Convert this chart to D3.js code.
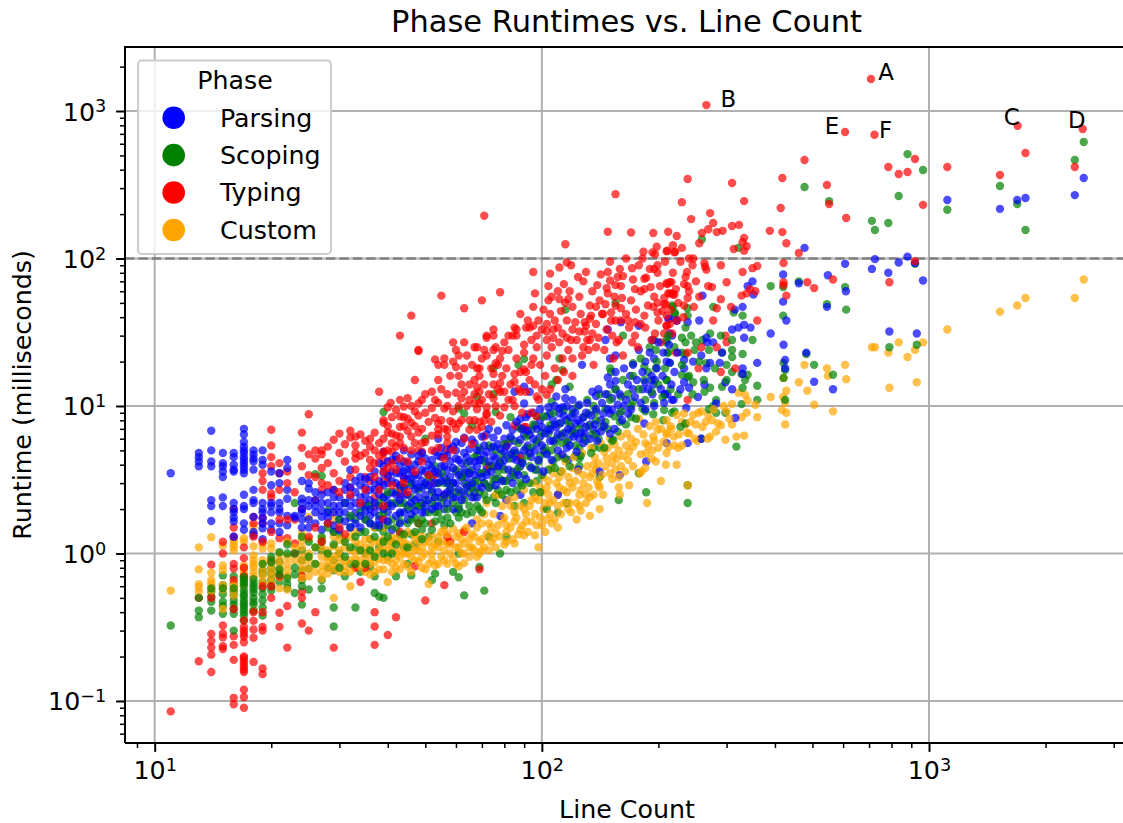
<!DOCTYPE html>
<html><head><meta charset="utf-8">
<script src="https://cdn.jsdelivr.net/npm/d3@7"></script>
<style>html,body{margin:0;background:#fff}svg{display:block}text{font-family:"DejaVu Sans";fill:#000}</style>
</head><body><svg id="c" width="1123" height="823"></svg>
<script>
const phases = ["Parsing","Scoping","Typing","Custom"];
const phaseColors = ["#0000ff","#008000","#ff0000","#ffa500"];
const decadesX = [10,100,1000];
const decadesY = [0.1,1,10,100,1000];
const minorX = [9,20,30,40,50,60,70,80,90,200,300,400,500,600,700,800,900,2000,3000];
const minorY = [0.06,0.07,0.08,0.09,0.2,0.3,0.4,0.5,0.6,0.7,0.8,0.9,2,3,4,5,6,7,8,9,20,30,40,50,60,70,80,90,200,300,400,500,600,700,800,900,2000];
const annotations = [["A",708,1648,15,-7],["B",266,1097,22,-6],["C",1694,795,-6,-9],["D",2494,755,-6,-9],["E",607,720,-13,-6],["F",723,691,11,-5]];

const parsing = [[11,3.5],[13,4.8],[13,4.5],[13,4.2],[13,3.9],[14,6.8],[14,5],[14,4.2],[14,3.9],[14,2.3],[14,2.1],[14,1.66],
[15,4.8],[15,4.1],[15,3.9],[15,3.6],[15,3.3],[15,2.4],[15,2.1],[16,4.8],[16,4.5],[16,4],[16,3.7],[16,3.6],[16,2.2],[16,2],[16,1.9],[16,1.75],[16,1.65],[16,1.3],
[17,7],[17,6.4],[17,5.7],[17,5.3],[17,5],[17,4.8],[17,4.5],[17,4.3],[17,4.1],[17,3.9],[17,3.7],[17,3.5],[17,2.5],[17,2.1],[17,2],[17,1.6],[17,1.45],
[18,5],[18,4.7],[18,4.4],[18,4.2],[18,3.7],[18,2.7],[18,2.3],[18,2.2],[18,1.77],[18,1.4],[18,1.33],[19,5],[19,4.3],[19,4],[19,2.2],[19,2],[19,1.9],[19,1.73],[19,1.6],[19,1.48],[19,1.25],
[20,3.6],[20,2.9],[20,2.2],[20,2.1],[20,1.9],[20,1.6],[20,1.45],[21,3.5],[21,3],[21,2.2],[21,2],[21,1.9],[21,1.6],[21,1.4],[22,4.3],[22,3.8],[22,2.7],[22,2.35],[22,1.8],[22,1.55],[23,1.8],[23,1.75],
[24,3.1],[24,2.35],[24,2.2],[24,2],[24,1.7],[24,1.5],[25,3],[25,2.75],[25,2.3],[25,1.5],[26,2.3],[26,1.9],[27,2.2],[27,1.77],[27,1.45],[28,1.9],[28,1.6],[29,2.4],[29,1.9],[29,1.4],[30,2.1],[30,1.7],
[31,3],[31,2.7],[31,1.9],[32,3.7],[32,2.1],[32,1.75],[33,2.6],[33,1.9],[33,1.6],[34,2.1],[34,1.5],[34,2.9],[35,1.7],[35,2.8],[35,2.2],[36,2.3],[36,3.3],[36,1.8],[37,2.7],[37,1.55],[37,3.6],[38,3.1],[38,2.1],[38,4.1],[38,1.7],
[39,3.5],[39,1.7],[39,2.4],[39,4.9],[40,3],[40,4.2],[40,2.5],[40,1.9],[41,2.6],[41,1.45],[41,3.6],[42,2.2],[42,4.6],[42,4.3],[42,3],[43,1.9],[43,2.9],[43,3.5],[44,3.3],[44,5],[44,2.5],[44,3.6],[45,2.1],[45,4.1],[45,1.7],[46,2.9],[46,3.7],
[47,3.4],[47,2.3],[47,4],[48,4.6],[48,2.8],[49,3.1],[49,2.2],[49,3.7],[50,2.5],[50,4.4],[50,1.9],[51,3.4],[52,4.3],[52,3.3],[52,2.7],[53,2.1],[53,3.6],[54,6],[54,3],[54,4.6],[55,2.4],[55,3.9],[56,4.7],[56,2],[56,3.3],
[57,3.7],[57,2.6],[58,4.2],[59,2],[59,3],[59,5.3],[60,5],[60,3.6],[60,2.4],[61,4.3],[61,2],[62,3.3],[62,5.6],[63,3],[63,2.5],[64,3.3],[64,4.5],[65,2.9],[65,5.1],[66,1.6],[66,3.7],[67,5.6],[67,2.6],[68,3.9],[68,2.8],[69,5],[69,3.5],
[70,4.3],[71,4.6],[71,3],[72,6.4],[72,3.8],[73,2.8],[74,5.2],[75,6.1],[75,4.6],[75,3.9],[76,3.2],[77,5.5],[78,4.1],[78,1.8],[79,3.9],[80,6],[80,4.9],[81,2.3],[82,5.6],[83,3.3],[84,6.9],[84,4.4],[85,5.8],[85,12.5],
[86,3.6],[87,7.2],[88,8.2],[88,4.6],[88,3.9],[88,2.5],[90,10.4],[90,6.4],[90,13.5],[91,8.4],[92,5.4],[93,6.4],[93,12.5],[94,4.5],[95,9],[96,7.4],[97,3.7],[97,5.6],[99,6.2],[99,8],
[101,5],[103,8.5],[104,7],[105,8.9],[105,5.8],[107,8],[109,7.2],[109,11.6],[110,2.5],[111,8.9],[112,6.2],[113,9.8],[115,13],[115,11.3],[116,8],[116,5.2],[117,5.9],[117,4.3],[120,9.5],[120,6.8],[122,7.6],[122,6.5],[124,3.7],[125,6],[126,7.6],[127,19],[129,6.5],[130,9],[133,7.5],[136,6.9],[138,6.5],[138,11.7],
[141,3.6],[142,8],[144,8.9],[148,15.6],[148,33],[146,28],[150,8.9],[150,21],[152,11.3],[155,13],[155,14.8],[155,22],[159,8.9],[159,3.4],[160,37],[163,10],[167,8.9],[169,16],[172,13],[178,35],[182,13],[184,7.6],[185,14.5],[185,20],[186,4.2],[193,12],[193,28],[194,14],[195,21],[196,15],[206,23],[208,12],[210,5.6],[211,12],[214,39],[214,31],[219,11],[223,38],
[212,39],[223,38],[238,37],[255,38],[214,19.6],[233,20.5],[246,20],[258,22],[292,23],[272,19.6],[288,19.6],[266,18],[330,18],[330,16.5],[233,18],[217,30],[266,29],[277,27],[267,27],[333,29],[310,33],[322,34],[333,35.5],[346,34],[315,45],[260,56],[330,47],[350,70],[340,65],[352,57],
[298,14.5],[310,13],[263,14],[233,14.5],[240,13.3],[208,12],[217,11],[253,11.5],[282,10.4],[236,9.7],[316,8.3],[238,5.6],[258,6],[360,19.6],[425,20.5],[425,18],[390,31],[421,26],[428,38],[420,51],[420,78],
[477,118],[461,68],[548,77],[545,47],[610,60],[607,92],[712,85],[725,99],[785,80],[835,94],[880,103],[920,93],[965,71],[790,32],[930,31],[482,23],[505,14.6],[565,13],[1115,249],[1525,217],[1690,249],[1775,257],[2380,269],[2510,351]];
const parsingCloud = [[24,1.9],[25,2.1],[25,1.7],[26,2.1],[26,1.6],[26,2.6],[27,1.95],[27,2.5],[28,2.2],[28,1.75],[28,2.6],[29,2.1],[29,1.55],[29,2.7],[30,1.9],[30,2.4],[30,1.45],[31,2.2],[31,1.65],[32,2.4],[32,1.5],[32,2.8],[33,2.2],[33,3.1],[34,1.8],[34,2.4],[34,3.3],[35,1.95],[35,2.5],[35,3.2],[36,2],[36,2.7],[36,1.6],[37,2.2],[37,3],[37,1.9],[38,2.5],[38,1.55],[38,2.8],[39,2],[39,2.9],[39,3.9],[40,2.2],[40,1.65],[40,3.4],[41,2.1],[41,3.1],[41,4.3],[42,2.5],[42,1.8],[42,3.5],[43,2.3],[43,3.9],[43,1.6],[44,2.8],[44,1.9],[44,4.2],[45,2.5],[45,3.2],[45,3.7],[46,2.2],[46,3.3],[46,1.85],[46,4.7],[47,2.7],[47,3],[47,1.95],[48,2.4],[48,3.4],[48,4.2],[49,2.8],[49,1.9],[49,4.8],[50,3],[50,2.1],[50,3.6],[51,2.3],[51,4],[51,2.9],[52,2],[52,3.8],[53,2.4],[53,3],[53,4.9],[54,2.6],[54,3.5],[54,2.1],[55,3.1],[55,4.5],[55,5.2],[56,2.5],[56,3.9],[57,3],[57,2.2],[57,4.6],[58,3.3],[58,2.7],[58,5.1],[59,3.8],[59,2.4],[60,3],[60,4.4],[60,5.7],[61,2.7],[61,3.4],[62,4.1],[62,2.3],[63,3.7],[63,4.8],[63,6.1],[64,2.8],[65,3.5],[65,4.2],[66,3],[66,2.4],[66,5.9],[67,4.2],[67,3.4],[68,5],[68,2.4],[69,4.3],[70,3.3],[70,6.2],[70,2.8],[71,5.4],[72,3.4],[72,4.9],[73,4.2],[73,7],[74,3.6],[75,5.3],[76,2.9],[76,4.4],[77,3.9],[77,6.8],[78,5.1],[79,3.1],[80,4.3],[81,5.3],[81,7.4],[82,3.7],[83,4.7],[83,6.2],[84,3],[85,5],[86,4.3],[86,7.8],[87,3.4],[88,5.9],[89,4.1],[89,7],[90,5],[91,3.2],[92,6.8],[92,8.8],[93,4.8],[94,3.8],[95,6],[96,5],[97,7],[98,4.3],[99,9.5],[100,5.4],[100,7.2],[101,3.6],[102,6.5],[103,4.7],[104,9.8],[105,6.9],[106,4.3],[107,5.8],[108,7.5],[108,10],[110,6.4],[110,5],[111,9.6],[112,7.7],[113,4.7],[114,8.6],[115,6.6],[116,10],[117,7],[118,5.4],[119,8.4],[120,11],[121,6.2],[122,9],[123,4.9],[124,8],[125,10.2],[126,6.6],[128,8.4],[128,5.6],[130,7.2],[131,10.5],[133,6],[134,8.6],[135,12.5],[137,7.5],[138,9.5],[139,5.8],[140,13],[142,6.7],[143,10.5],[145,7.3],[146,12],[148,9.5],[150,6.5],[150,14],[152,9.4],[154,7],[155,17],[157,10.2],[159,12],[161,8],[163,18],[165,11],[167,14],[170,9.5],[172,19],[174,11.5],[176,15],[178,24],[180,10.5],[182,17],[185,9.5],[188,13],[190,23],[192,16],[195,10],[198,18],[200,27],[203,13],[205,16],[207,10.5],[210,20],[213,26],[216,14],[220,17],[224,23],[228,13]];

const scoping = [[11,0.325],[13,0.41],[13,0.37],[14,0.55],[14,0.51],[14,0.47],[14,0.41],[15,0.71],[15,0.61],[15,0.53],[15,0.47],[15,0.44],[15,0.39],[16,0.7],[16,0.62],[16,0.55],[16,0.52],[16,0.48],[16,0.45],[16,0.42],[16,0.39],[16,0.3],
[17,0.56],[17,0.53],[17,0.51],[17,0.48],[17,0.46],[17,0.44],[17,0.42],[17,0.4],[17,0.38],[17,0.35],[18,0.63],[18,0.6],[18,0.57],[18,0.54],[18,0.5],[18,0.47],[18,0.45],[19,0.77],[19,0.73],[19,0.64],[19,0.53],[19,0.48],[19,0.43],[19,0.38],[20,0.79],[20,0.73],[20,0.66],[20,0.56],[21,0.88],[21,0.64],[22,0.62],[22,0.58],
[23,2.2],[23,0.54],[24,1.05],[24,0.9],[24,0.77],[24,0.66],[24,0.45],[25,0.79],[25,0.57],[26,3.45],[27,3.35],[27,1.05],[27,0.66],[27,0.58],[28,1.95],[28,0.8],[29,0.9],[29,0.77],[29,0.43],[29,0.32],[30,1],[30,1.35],[31,0.7],[31,2.2],[32,1.5],[32,0.85],[33,0.43],[33,1.7],[33,1.1],[34,0.75],[34,1.4],[35,2.1],[35,1],[36,1.25],[36,0.8],[37,0.54],[37,1.5],[37,0.7],[38,0.51],[38,1.1],[38,1.8],
[39,0.5],[39,1.4],[39,9.1],[39,2.4],[40,2.1],[40,0.95],[41,1.2],[41,1.7],[42,0.7],[42,2.6],[43,1.85],[43,1.35],[44,1.1],[44,2.2],[45,0.85],[45,1.6],[46,1.35],[46,0.71],[46,2.4],[47,1.75],[47,1.15],[48,2.1],[49,1.7],[49,1.45],[50,6],[50,2.3],[51,1.3],[52,0.66],[52,2.6],[53,1.9],[53,0.73],[53,3.9],[54,1.2],[55,2.2],[56,1.55],[56,3],[57,1.75],[58,2.5],[59,0.75],[59,3],[60,1.9],[61,1.75],[61,1],[61,0.69],[61,9.6],[62,2.6],[63,0.52],[63,3.5],[63,8.9],[64,1.85],[65,2.6],[66,7.4],[67,3.1],[68,2.1],[68,11.6],[68,4.6],[69,2],[69,0.81],[71,0.56],[71,2.5],[72,3.6],[73,1.3],[74,2.9],[75,2.4],[75,18],[75,12],[76,9.1],[77,3.6],[78,1],[79,4.7],[80,3.1],[81,1.3],[81,2.7],[83,8.4],[84,3.6],[85,2.1],[86,4.8],[87,19],[88,3],[90,2.2],[90,20.8],[91,5.2],[93,3.9],[94,6.9],[95,2.6],[97,8.5],[97,3.1],[99,4.6],
[103,4.8],[103,2],[104,6.5],[106,14],[106,10.7],[107,4.2],[108,5.6],[109,15],[110,1.9],[111,21],[112,3.6],[113,5.6],[113,17.5],[115,45],[116,2.2],[118,13.5],[119,7.2],[122,4.6],[125,5.2],[125,4.4],[125,3.9],[128,6.2],[132,8.9],[136,5.2],[138,9.1],[141,5.2],[141,3.3],[146,7.8],[148,12],[150,18],[151,17],[153,5.9],[155,50],[158,2.3],[159,7.8],[160,11.6],[162,30],[170,8.4],[172,19.5],[172,10.7],[178,3.5],[184,18.5],[184,15],[185,9.2],[186,2.6],[193,15],[194,8.8],[195,28],[197,18],[197,24],[206,8],[210,27],[210,15],[211,23],[217,48],[220,9.2],[221,42],
[238,2.2],[238,2.9],[207,9.4],[217,9],[228,7.2],[235,7.6],[258,6],[318,5.3],[298,9],[282,9],[270,9.5],[360,11],[328,10.3],[282,11],[277,10],[263,12.5],[335,15],[360,13.7],[330,13.3],[210,15],[246,14.5],[292,13.5],[272,13.3],[266,19.5],[300,19],[310,17],[328,16.5],[340,16.3],[230,16.3],[238,15.7],[230,23],[212,23],[214,19.6],[248,24],[235,22.5],[292,23],[310,24],[310,21.5],[330,22.5],[272,31],[260,28],[243,30],[230,29],[235,27],[210,28],[350,28],[313,43],[330,41],[277,47],[238,41],[238,46],[218,47],[220,43],[322,118],[259,135],
[421,19.6],[425,17.5],[421,15.5],[425,11],[420,41],[420,64],[390,65],[461,70],[482,22.5],[505,19],[565,16.3],[545,49],[611,45],[607,64],[552,245],[477,305],[725,156],[712,180],[785,174],[790,25],[835,265],[880,510],[930,26],[920,92],[965,398],[1115,214],[1525,310],[1690,234],[1775,156],[2380,465],[2510,617]];
const scopingCloud = [[13,0.5],[14,0.58],[15,0.58],[16,0.58],[17,0.6],[17,0.63],[17,0.66],[17,0.69],[18,0.67],[18,0.41],[19,0.58],[20,0.6],[21,0.72],[21,0.78],[22,0.68],[23,0.72],[23,1],[19,0.85],[20,0.87],[20,0.95],[21,1.02],[22,1.15],[24,0.6],[22,1],[23,0.8],[24,1.3],[25,1.2],[25,0.95],[26,0.85],[26,1.1],[27,1.3],[27,1.2],[28,1],[28,1.5],[29,1.15],[29,1.4],[30,0.8],[30,1.7],[31,1.2],[31,0.95],[32,1.1],[32,1.8],[33,1.3],[33,0.85],[34,1.05],[34,1.9],[35,1.4],[35,0.85],[35,1.7],[36,1.05],[36,1.6],[36,2.1],[37,1.3],[37,0.95],[38,1.5],[38,2.2],[39,1.2],[39,1],[39,1.9],[40,1.55],[40,1.3],[40,2.6],[41,2.2],[41,1],[42,1.5],[42,1.15],[43,1.65],[43,2.2],[44,1.35],[44,2.8],[45,1.1],[45,2],[46,1.7],[46,3],[47,1.4],[47,2.1],[48,1.6],[48,2.7],[49,1.25],[49,2.1],[50,1.6],[50,2.9],[51,1.9],[51,3.3],[52,2.2],[52,1.45],[53,2.4],[53,1.65],[54,3],[54,1.9],[55,1.7],[55,3.5],[56,2.4],[57,2],[57,3.1],[58,1.6],[58,2.8],[59,2.2],[60,2.6],[60,3.7],[61,2.1],[62,1.9],[62,3.3],[63,2.3],[64,2.9],[64,4.1],[65,2.1],[65,3.6],[66,1.9],[66,2.8],[67,2.4],[67,4.5],[68,3.1],[69,2.6],[69,5.2],[70,1.9],[70,3.5],[71,3],[71,4.2],[72,2.3],[73,2.8],[73,5.4],[74,3.9],[75,3.2],[76,2.2],[76,5],[77,2.7],[78,4.2],[78,3.2],[79,2.5],[80,5.5],[80,3.7],[81,3.1],[82,4.4],[83,2.6],[83,6],[84,4.8],[85,3.3],[86,2.7],[87,5.6],[87,3.8],[88,7],[89,4.2],[89,2.9],[90,3.4],[91,6.2],[92,4.6],[93,3],[94,5.2],[95,7.5],[96,3.7],[97,5.8],[98,4.2],[99,2.6],[100,6.6],[100,3.4],[101,8.5],[102,5.2],[104,3.7],[105,7.4],[106,5],[107,9],[108,3.8],[109,6],[110,4.5],[111,7.6],[113,6.5],[114,9.4],[115,4.4],[116,5.7],[117,7.8],[118,3.9],[120,6.5],[120,8.9],[122,5.4],[124,10],[125,7],[126,4.6],[128,8.4],[130,5.8],[131,11],[132,7.3],[134,4.8],[135,6.4],[136,10],[138,8],[140,6],[141,12],[143,7.2],[145,5.2],[146,9.6],[148,7],[150,11],[152,5.8],[154,8.5],[155,13],[157,6.7],[160,9.2],[162,15],[165,7.5],[167,12],[170,10],[172,16],[175,8.2],[178,13],[180,21],[182,9.6],[185,11],[188,17],[190,25],[192,12.5],[195,10.5],[198,20],[200,14],[205,11.5],[208,18],[212,30],[215,13],[220,25],[225,12],[230,19],[235,34],[240,16],[245,12],[250,27],[255,20],[262,15],[270,24],[280,18],[290,30],[300,15],[310,28]];

const typing = [[11,0.085],[13,0.186],[13,0.5],[14,0.157],[14,0.206],[14,0.23],[14,0.255],[14,0.285],[14,0.84],[14,0.5],[15,0.225],[15,0.235],[15,0.287],[15,0.325],[15,1],[15,1.2],[16,0.19],[16,0.105],[16,0.095],[16,0.275],[16,0.79],[16,0.66],[16,0.42],[16,2],[16,1.5],[16,1.3],
[17,0.09],[17,0.106],[17,0.119],[17,0.157],[17,0.163],[17,0.17],[17,0.178],[17,0.186],[17,0.195],[17,0.2],[17,0.272],[17,0.286],[17,0.301],[17,0.317],[17,0.352],[17,0.93],[17,0.8],[17,0.7],[18,0.184],[18,0.268],[18,0.305],[18,0.35],[18,1.77],[18,1.6],[19,0.166],[19,0.152],[19,0.318],[19,0.3],[19,0.4],[19,3.5],[19,3.1],[19,2.7],[19,1.6],[19,1.75],
[20,6.9],[20,5.4],[20,4.5],[20,3.9],[20,2.55],[20,2.4],[20,0.9],[20,0.5],[21,0.318],[21,0.396],[21,4.1],[21,3.5],[21,2.7],[21,1.27],[21,0.7],[22,0.23],[22,0.44],[22,3.6],[22,1.27],[23,1.7],[23,1.17],[23,1],[24,0.335],[24,6.6],[24,5.2],[24,3.9],[24,2],[24,0.7],[24,0.5],[24,0.55],[25,8.8],[25,0.3],[25,4.7],[25,3.4],[26,0.4],[26,5],[26,4.4],[26,2.3],[27,5],[27,4.7],[27,2.7],[27,3],[28,4.1],[29,5.9],[29,0.23],[29,2.7],[30,4.8],[32,6.8],[32,6.1],[32,3.3],[32,2.8],[33,6.2],[33,5.4],[33,4.8],[33,4.4],[33,0.8],[34,0.64],[35,4.8],[35,3.3],[35,0.8],[36,6],[36,4.3],[36,3.1],[37,5],[37,2.4],[37,2.1],[37,0.4],[37,0.32],[37,0.24],[39,4.8],[39,8],[39,7.7],[39,4.3],[39,3.1],[40,9.8],[40,0.28],[41,6.5],[41,4.9],[42,6.3],[42,0.37],[43,2.8],[44,7.3],
[38,12.5],[39,4.9],[40,3.3],[40.7,10.5],[40,6.6],[41,5.6],[43,11],[43,8.5],[43,7.2],[43,5.6],[43,30],[43,2.5],[44,8.4],[44,3.2],[45,11.3],[46,41],[46,6.2],[47,15],[47,7.3],[47,5.6],[48,24],[48,23.6],[48,10.4],[48,5],[48,1.6],[39,1.7],[43,1.4],[47,0.82],[49,5.6],[49,4.9],[50,12],[50,0.48],[52,12.5],[52,9.7],[52,3],[52,1.6],[53,20.7],[53,3.4],[54,19],[54,15],[54,7.6],[54,6.9],[54,6.4],[55,56],[56,21],[56,19],[56,9.6],[56,2.5],[56,0.61],[57,6.9],[57,6.2],[57,5.6],[57,5.1],[57,1.3],[58,1.2],[59,27],[59,20],[59,7.6],[60,18.4],[61,22],[61,16],[61,7.6],[63,27],[63,46],[63,12.5],[63,1.4],[62,11.3],[65,11],[65,6.9],[67,15],[67,10.4],[67,8],[68,25],[68,18],[68,13.4],[68,6.9],[69,18],[69,12.5],[69,10.4],[69,7.8],[69,0.78],[70,52],[70,7.2],[71,195],[71,24],[71,8],[71,6.2],[72,29],[72,22],[72,8.9],[72,8.7],[73,3.9],[75,33],[75,30],[75,16.5],[75,11.3],[76,25],[76,19.5],[77,19],[78,59],[78,14.3],[78,12.5],[79,23.6],[80,12.5],[81,5.4],[82,30],[84,11],[85,34],[85,16.5],[85,14.6],[85,7.4],[86,33],[86,30],[88,12.5],[88,4.4],[90,26],[90,17.7],[90,7.2],[91,34],[91,17],[91,7.2],[93,34],[94,28],[95,81],[95,35],[95,21],[96,58],[97,30],[97,11.6],[97,8.5],[98,38],
[103,36],[103,32],[103,28],[103,11.9],[104,52],[105,79],[106,55],[107,33],[107,29],[110,34],[111,87],[111,53],[113,31],[114,67],[115,125],[115,50],[116,94],[116,29],[117,53],[119,90],[119,28],[120,47],[120,33],[124,75],[125,32],[128,25],[129,37],[129,32],[130,81],[131,28],[133,39],[133,28],[134,41],[135,31],[138,47],[138,25],[139,66],[141,52],[144,42],[146,49],[147,63],[148,152],[148,81],[150,71],[151,43],[151,38],[154,55],[155,273],[155,66],[155,48],[156,27],[159,85],[160,46],[160,38],[161,54],[162,76],[167,38],[170,150],[171,86],[171,27],[174,62],[174,37],[174,30],[178,90],[180,36],[183,111],[184,73],[184,62],[184,41],[186,74],[191,64],[193,110],[194,149],[194,47],[195,85],[196,107],[196,31],[199,90],[199,80],[199,50],[199,43],[203,27],[207,49],[207,54],[207,31],[209,49],[210,112],[210,68],[210,41],[210,35],[210,35],[211,113],[211,67],[212,152],[214,69],[214,58],[214,36],[216,69],[217,58],[217,31],[218,123],[218,57],[220,57],[220,110],[221,111],[222,23],[223,142],[223,38],
[230,241],[230,118],[233,67],[233,48],[237,81],[238,346],[238,65],[238,54],[238,23],[238,11],[240,100],[243,185],[246,100],[247,47],[254,18],[255,127],[258,25],[259,149],[263,93],[264,88],[266,84],[266,1097],[269,158],[269,65],[272,203],[275,64],[277,174],[277,38],[283,151],[283,46],[283,25],[290,90],[290,53],[290,17],[293,154],[298,30],[300,69],[300,27],[308,47],[310,325],[310,166],[313,116],[316,18],[323,169],[328,56],[330,81],[330,129],[333,245],[333,138],[333,113],[338,121],[338,58],[345,62],[350,86],[356,60],[360,89],[360,38],[388,154],[414,220],[418,351],[418,151],[421,93],[421,69],[421,66],[428,127],[428,56],[461,109],[477,465],[485,69],[505,63],[545,315],[552,234],[565,72],[607,720],[611,188],[708,1648],[723,691],[785,417],[790,69],[835,374],[880,386],[920,473],[920,96],[965,231],[1115,417],[1525,368],[1694,795],[1775,519],[2380,417],[2494,755]];
const typingCloud = [[15,0.27],[16,0.24],[17,0.25],[18,0.4],[19,0.6],[20,0.6],[16,0.85],[17,1.1],[18,1.3],[19,1.2],[20,1.4],[21,1.7],[22,1.7],[23,2.6],[22,3],[25,1.3],[26,1.5],[27,1.2],[28,1.6],[30,2.6],[30,1.5],[31,1.35],[26,3.3],[27,3.8],[28,2.9],[28,5.3],[29,3.5],[30,3.1],[30,6.5],[31,4.2],[31,5.5],[32,2.5],[33,3.7],[34,4.6],[34,2.2],[34,6.4],[35,5.8],[35,2.7],[36,3.8],[36,5.3],[37,4.1],[37,3.3],[37,6.6],[38,5.6],[38,2.7],[38,4.6],[39,6],[39,3.6],[39,2.1],[40,5],[40,3.8],[40,7.3],[41,4.1],[41,8.4],[41,2.9],[42,5.3],[42,9.4],[42,3.7],[43,6.2],[43,4.4],[44,9.9],[44,5.2],[44,3],[45,6.8],[45,8.2],[45,4.2],[45,2.6],[46,5],[46,10],[46,7.7],[47,3.6],[47,9.2],[48,6.6],[48,8.6],[49,4.2],[49,7],[49,11],[50,5.7],[50,9],[51,7.8],[51,3.4],[52,6.3],[52,5],[53,8.3],[53,11],[54,5.2],[54,10.5],[55,8],[55,13],[56,7],[56,4.4],[57,10],[57,12],[58,7.9],[58,16],[59,5],[59,9.2],[60,12.3],[60,7],[60,24],[61,10],[62,8],[62,14],[63,6],[63,18],[64,10],[64,22],[65,8],[65,14],[66,19],[66,5.5],[67,12],[67,25],[68,9.5],[69,16],[70,11],[70,21],[71,14],[72,9.8],[72,30],[73,12],[74,18],[74,7.8],[75,14],[75,24],[76,10],[77,13],[78,21],[78,8.6],[79,16],[80,27],[80,9.8],[81,18],[82,11],[82,24],[83,14],[84,30],[85,10],[86,21],[87,13],[88,42],[88,17],[89,9],[90,23],[91,12.5],[92,38],[93,15],[94,19],[94,9],[95,47],[96,14],[97,25],[98,11],[99,19],[100,33],[100,13],[101,45],[102,16],[103,22],[104,65],[105,13],[105,42],[106,25],[108,18],[108,38],[110,15],[110,60],[111,27],[112,44],[113,21],[114,17],[116,38],[117,24],[118,60],[120,21],[120,16],[122,37],[123,28],[125,55],[126,42],[127,22],[128,70],[130,35],[132,24],[133,48],[135,60],[136,19],[138,36],[140,29],[142,78],[143,42],[145,24],[147,33],[148,58],[150,95],[152,30],[153,21],[155,38],[157,75],[158,28],[160,65],[162,22],[165,42],[165,100],[168,34],[170,52],[172,72],[175,45],[177,25],[180,60],[182,100],[185,34],[188,48],[190,85],[192,28],[195,55],[198,120],[200,38],[202,65],[205,44],[208,95],[212,58],[215,45],[218,80],[222,62],[225,50],[228,95],[232,40],[235,75],[240,60],[245,90],[250,70],[255,55]];

const custom = [[11,0.56],[13,1.1],[13,0.78],[13,0.59],[13,0.55],[14,1.29],[14,0.66],[14,0.63],[14,0.6],[14,0.56],[15,1.13],[15,0.83],[15,0.77],[15,0.61],[15,0.57],[15,0.42],[16,1.23],[16,1.17],[16,1.11],[16,1.05],[16,0.63],[16,0.6],[16,0.57],[16,0.52],
[17,1.27],[17,1.2],[17,0.83],[17,0.79],[17,0.75],[17,0.71],[17,0.68],[17,0.64],[17,0.61],[18,1.53],[18,1.37],[18,1.12],[18,0.97],[18,0.9],[18,0.85],[18,0.81],[18,0.41],[19,1.17],[19,1.08],[19,0.9],[19,0.77],[19,0.7],[19,0.63],[20,1.17],[20,1.08],[20,0.85],[20,0.77],[20,0.7],[20,0.63],[21,0.9],[21,0.81],[21,0.75],[21,0.69],[21,0.58],[22,0.95],[22,0.85],[22,0.77],[22,0.7],[22,0.57],
[24,1.37],[24,1.23],[24,0.95],[24,0.85],[24,0.77],[25,1.77],[25,1.25],[25,0.79],[25,1],[27,0.95],[27,0.83],[27,0.75],[27,0.68],[28,0.9],[28,0.81],[28,0.73],[29,1.87],[29,1.68],[29,1.12],[29,0.95],[29,0.85],[29,0.5],[30,1.23],[30,1.05],[30,0.85],[31,1.1],[31,0.9],[31,0.75],[32,0.6],[32,0.9],[32,1.3],[33,1.4],[33,1],[33,0.8],[34,1.15],[34,0.9],[35,0.75],[35,1.25],[35,0.98],[36,1.1],[36,0.85],[37,1.5],[37,0.75],[37,1],[38,0.78],[38,1.2],[39,1.1],[39,0.9],[39,1.5],
[40,0.64],[40,1.05],[41,0.85],[41,1.3],[42,0.8],[42,1],[43,0.95],[43,1.2],[44,1.17],[44,0.85],[45,1],[45,1.4],[46,1.1],[47,0.9],[47,1.25],[48,1.05],[49,1.1],[49,0.95],[50,0.78],[51,0.62],[51,1.2],[52,1.1],[52,0.9],[53,0.83],[54,1.1],[54,1.3],[55,0.95],[56,1.44],[56,1.05],[57,0.85],[57,1.17],[57,1.2],[58,1],[59,1.47],[60,1.1],[61,1.37],[61,0.82],[62,1],[63,0.86],[63,1.17],[63,1.45],[65,1.25],[66,1.1],[67,1.3],[68,0.95],[68,1.7],[69,1.2],[70,1.05],[70,1.6],[72,2.2],[73,1.05],[74,1.5],[75,1.26],[76,2.5],[76,1.37],[78,2.5],[79,1.7],[81,1.2],[81,1.56],[83,2.1],[85,1.17],[85,1.9],[85,1.65],[88,1.45],[90,2],[90,1.33],[91,1.65],[94,2.3],[96,2.4],[96,1.33],[98,1.1],[99,2.8],[101,2],[102,1.4],[103,2.8],[104,3.1],[105,2.2],[106,1.6],[107,3.5],[110,1.5],[110,2.5],[111,3.3],[112,4.6],[114,2.7],[117,2],[118,3],[120,3.8],[123,1.7],[125,2.1],[126,2.7],[128,3],[130,2.5],[133,3.3],[133,2.4],[133,1.8],[136,4],[138,3.7],[140,2.9],[141,2.8],[141,2],[145,4.9],[147,4.4],[150,6],[152,3.2],[153,4.6],[155,3.7],[158,2.8],[158,5],[159,2.5],[160,3.9],[165,5.4],[167,4.3],[168,2.9],[172,5.3],[178,8.2],[179,3.5],[181,3.6],[185,5.6],[186,4.8],[187,2.2],[193,5],[194,6.2],[197,4.2],[199,6.9],[203,3.1],[209,4],[210,4.8],[210,6.4],[210,6.6],[219,6.2],[223,4],
[230,7.8],[235,7.5],[238,2.9],[246,8.7],[258,9.2],[269,8.7],[272,6.2],[282,6.7],[298,5.9],[310,7.5],[310,10.3],[318,6.2],[322,12.3],[328,8.4],[333,6.3],[335,11.9],[338,9],[340,10.9],[356,10.2],[360,8.4],[250,7.5],[265,7.8],[290,7.4],[275,8],[300,9.2],[240,6.5],[252,5.8],[225,5.2],[215,7.3],[390,11.5],[417,9.4],[420,11.5],[421,15.5],[425,10.5],[425,7.5],[428,12.7],[428,9],[461,14.5],[477,19],[485,12.7],[505,10.2],[545,18],[548,16],[565,9.2],[607,19],[611,15.2],[712,25],[725,25],[785,23],[790,13.3],[835,27],[880,21.5],[920,24],[930,14.5],[965,27],[1115,33],[1525,43.5],[1690,48],[1775,54],[2380,54],[2510,72]];
const customCloud = [[13,0.62],[14,0.74],[18,0.75],[18,0.7],[19,0.85],[20,0.9],[21,1],[22,1.2],[23,0.9],[23,1.1],[24,1.1],[24,0.68],[25,0.9],[25,0.7],[26,1.1],[26,0.85],[26,0.75],[27,1.1],[27,1.25],[28,1.05],[28,0.95],[29,0.78],[29,1.3],[30,0.95],[30,0.75],[31,1.25],[31,0.82],[32,1.05],[32,0.75],[33,1.2],[33,0.9],[34,0.82],[34,1.05],[35,1.1],[35,0.87],[36,1.25],[36,0.95],[36,0.72],[37,0.87],[37,1.2],[38,1.05],[38,0.92],[39,1.25],[39,0.78],[40,1.2],[40,0.9],[41,1.05],[41,1.15],[41,0.75],[42,1.25],[42,0.9],[43,0.78],[43,1.05],[44,1],[44,1.3],[45,0.82],[45,1.15],[46,0.95],[46,0.75],[47,1.05],[47,1.35],[48,0.88],[48,1.2],[49,0.8],[49,1.3],[50,1],[50,1.2],[51,0.85],[52,1],[52,1.3],[53,1.15],[54,0.85],[55,1.2],[55,1.4],[56,0.9],[57,1.35],[58,1.15],[59,0.92],[60,1.3],[60,0.85],[61,1.1],[62,1.25],[63,1],[64,1.5],[65,0.95],[65,1.1],[66,1.35],[67,1.05],[68,1.5],[69,1],[70,1.25],[71,1.85],[71,1.1],[72,1.35],[73,1.6],[74,1.2],[75,1.85],[76,1.1],[77,1.55],[78,1.3],[79,2.1],[80,1.15],[80,1.75],[81,1.4],[82,2.3],[83,1.5],[84,1.25],[85,2.4],[86,1.75],[87,1.35],[88,2.1],[89,1.55],[90,2.7],[91,1.85],[92,1.4],[93,2.1],[94,1.65],[95,3],[96,1.85],[97,1.55],[98,2.3],[99,1.75],[100,2.6],[100,1.55],[101,3.3],[102,2.2],[103,1.7],[104,2.5],[105,1.85],[106,3.8],[107,2.3],[108,1.7],[109,3],[110,2.1],[111,2.8],[112,1.85],[113,3.6],[114,2.2],[115,4.2],[116,2.6],[117,3.3],[118,2.2],[119,1.9],[120,2.8],[121,4.5],[122,3.1],[123,2.2],[124,3.6],[125,2.5],[126,1.95],[127,4.8],[128,3.4],[130,2.2],[131,3.9],[132,2.8],[134,5.2],[135,3.5],[136,2.5],[137,4.5],[139,3.1],[140,4.1],[142,5.6],[143,3.4],[144,2.5],[146,3.9],[148,5.2],[150,3.5],[152,4.1],[154,5.5],[156,4.4],[158,3.3],[160,6.2],[162,4.6],[164,3.6],[166,6.5],[168,4.9],[170,6],[172,3.9],[175,5.7],[177,7],[180,4.7],[183,6.4],[185,3.8],[188,5.4],[190,7.3],[192,4.4],[195,5.8],[197,7.8],[200,5.2],[203,7],[206,5.7],[210,8],[213,5.3],[216,7],[220,5.4],[223,8.7],[226,6.4],[230,5.4],[233,8.9],[237,6.6],[242,7.8],[248,6],[254,9],[260,7.2],[268,6],[278,9.5],[285,7.6],[295,10],[305,8.2]];

const W=1123,H=823,L=125,T=47,B=743,R=1123;
const x=d3.scaleLog().domain([8.381,3170]).range([L,R]);
const y=d3.scaleLog().domain([10**-1.285,10**3.434]).range([B,T]);
const sup=(sel,v)=>{const e=Math.round(Math.log10(v));sel.text("10").append("tspan").attr("dy","-0.47em").attr("font-size","0.7em").text(e<0?"\u2212"+(-e):e);};

// grid
const grid=svg=>svg.append("g").attr("stroke","#b0b0b0").attr("stroke-width",2);
const svg=d3.select("#c");
const gr=grid(svg);
gr.selectAll(".v").data(decadesX).join("line").attr("x1",d=>x(d)).attr("x2",d=>x(d)).attr("y1",T).attr("y2",B);
gr.selectAll(".h").data(decadesY).join("line").attr("y1",d=>y(d)).attr("y2",d=>y(d)).attr("x1",L).attr("x2",R);
svg.append("line").attr("x1",L).attr("x2",R).attr("y1",y(100)).attr("y2",y(100)).attr("stroke","#808080").attr("stroke-width",2.5).attr("stroke-dasharray","9.4 4");

// points: drawn row by row across phases
const seriesData=[parsing.concat(parsingCloud),scoping.concat(scopingCloud),typing.concat(typingCloud),custom.concat(customCloud)];
const drawOrder=[2,3,1,0];
const rows=[];
const n=d3.max(seriesData,s=>s.length);
for(let i=0;i<n;i++)drawOrder.forEach(k=>{const s=seriesData[k];if(i<s.length)rows.push({x:s[i][0],y:s[i][1],k});});
const cloudRows=rows.slice().sort((a,b)=>a.k===b.k?0:0);
svg.append("g").selectAll("circle").data(cloudRows).join("circle")
 .attr("cx",d=>x(d.x)).attr("cy",d=>y(d.y)).attr("r",4.2).attr("fill",d=>phaseColors[d.k]).attr("fill-opacity",0.7);

// annotations
svg.append("g").selectAll("text").data(annotations).join("text")
 .attr("x",d=>x(d[1])+d[3]).attr("y",d=>y(d[2])+d[4]+8).attr("text-anchor","middle").attr("font-size",22.8).text(d=>d[0]);

// axes
function axis(gen,vals,size,tr){
 const g=svg.append("g").attr("transform",tr).call(gen.tickValues(vals).tickSize(size).tickSizeOuter(0).tickFormat(""));
 g.select(".domain").remove();
 g.selectAll(".tick line").attr("stroke","#000").attr("stroke-width",size>6?2:1.5);
 return g;
}
axis(d3.axisBottom(x),minorX,5,`translate(0,${B})`);
axis(d3.axisLeft(y),minorY,5,`translate(${L},0)`);
const gx=axis(d3.axisBottom(x),decadesX,8.85,`translate(0,${B})`);
gx.selectAll(".tick text").each(function(d){d3.select(this).attr("font-size",25.3).attr("font-family","DejaVu Sans").attr("fill","#000").attr("y",36).attr("dy",0).call(sup,d);});
const gy=axis(d3.axisLeft(y),decadesY,8.85,`translate(${L},0)`);
gy.selectAll(".tick text").each(function(d){d3.select(this).attr("font-size",25.3).attr("font-family","DejaVu Sans").attr("fill","#000").attr("x",-18.7).attr("dy",9).attr("text-anchor","end").call(sup,d);});
svg.append("path").attr("d",`M${L},${B}V${T}H${R+2}M${L},${B}H${R+2}`).attr("fill","none").attr("stroke","#000").attr("stroke-width",2);

// titles
svg.append("text").attr("x",626.5).attr("y",32).attr("text-anchor","middle").attr("font-size",30.5).text("Phase Runtimes vs. Line Count");
svg.append("text").attr("x",627).attr("y",818).attr("text-anchor","middle").attr("font-size",25.3).text("Line Count");
svg.append("text").attr("transform","translate(31,395) rotate(-90)").attr("text-anchor","middle").attr("font-size",25.3).text("Runtime (milliseconds)");

// legend
const lg=svg.append("g");
lg.append("rect").attr("x",138).attr("y",60.5).attr("width",193).attr("height",193.5).attr("rx",4).attr("fill","#fff").attr("fill-opacity",0.8).attr("stroke","#ccc").attr("stroke-width",2);
lg.append("text").attr("x",235).attr("y",89).attr("text-anchor","middle").attr("font-size",25.3).text("Phase");
const lh=d3.scaleLinear().domain([0,3]).range([117.7,230]);
lg.selectAll("circle").data(phases).join("circle").attr("cx",173.7).attr("cy",(d,i)=>lh(i)).attr("r",11.3).attr("fill",(d,i)=>phaseColors[i]);
lg.selectAll(".l").data(phases).join("text").attr("x",220).attr("y",(d,i)=>lh(i)+8.8).attr("font-size",25.3).text(d=>d);
</script></body></html>
